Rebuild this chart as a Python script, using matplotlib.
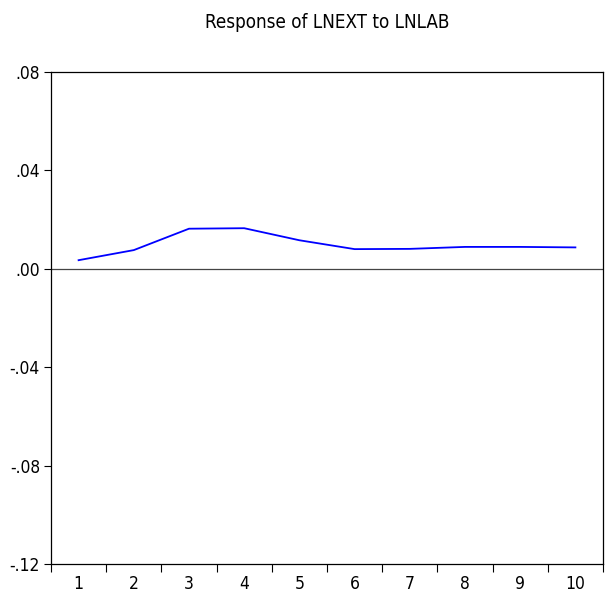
import matplotlib
matplotlib.use("Agg")
import matplotlib.pyplot as plt
from matplotlib import font_manager
from matplotlib.font_manager import FontProperties
import numpy as np
import os

periods = [1, 2, 3, 4, 5, 6, 7, 8, 9, 10]
response = [0.0035, 0.0076, 0.0163, 0.0165, 0.0116, 0.0080, 0.0081, 0.0089, 0.0089, 0.0087]
yticks = [0.08, 0.04, 0.00, -0.04, -0.08, -0.12]
yticklabels = [".08", ".04", ".00", "-.04", "-.08", "-.12"]
title = "Response of LNEXT to LNLAB"

# find a condensed sans font (Arial Narrow look-alike)
path = None
files = [f.fname for f in font_manager.fontManager.ttflist]
prefs = ["LiberationSansNarrow-Regular", "DejaVuSansCondensed.ttf", "DejaVuSansCondensed"]
for p in prefs:
    for f in files:
        if p in os.path.basename(f):
            path = f
            break
    if path:
        break

def fp(size):
    if path:
        return FontProperties(fname=path, size=size)
    return FontProperties(family=["Liberation Sans", "DejaVu Sans"], size=size)

fig = plt.figure(figsize=(6.10, 6.01), dpi=100)
ax = fig.add_axes([51/610, 1 - 564/601, (603-51)/610, (564-72)/601])

ax.plot(periods, response, color="#0000ff", linewidth=1.3)
ax.axhline(0, color="#444444", linewidth=0.9)

ax.set_xlim(0.5, 10.5)
ax.set_ylim(-0.12, 0.08)
ax.set_yticks(yticks)
ax.set_yticklabels(yticklabels, fontproperties=fp(12.5))
ax.set_xticks(periods)
ax.set_xticklabels([str(p) for p in periods], fontproperties=fp(12.5))
ax.set_xticks(np.arange(0.5, 11.0, 1.0), minor=True)
ax.tick_params(axis='x', which='major', length=0, pad=8)
ax.tick_params(axis='x', which='minor', length=6, width=0.8, direction='out')
ax.tick_params(axis='y', which='major', length=5, width=0.8, direction='out', pad=3)
ax.tick_params(top=False, right=False)
for s in ax.spines.values():
    s.set_linewidth(0.9)
    s.set_color("black")

fig.text((51+603)/2/610, 1 - 22/601, title, ha='center', va='center', fontproperties=fp(13.5))

fig.savefig("out.png", dpi=100)
